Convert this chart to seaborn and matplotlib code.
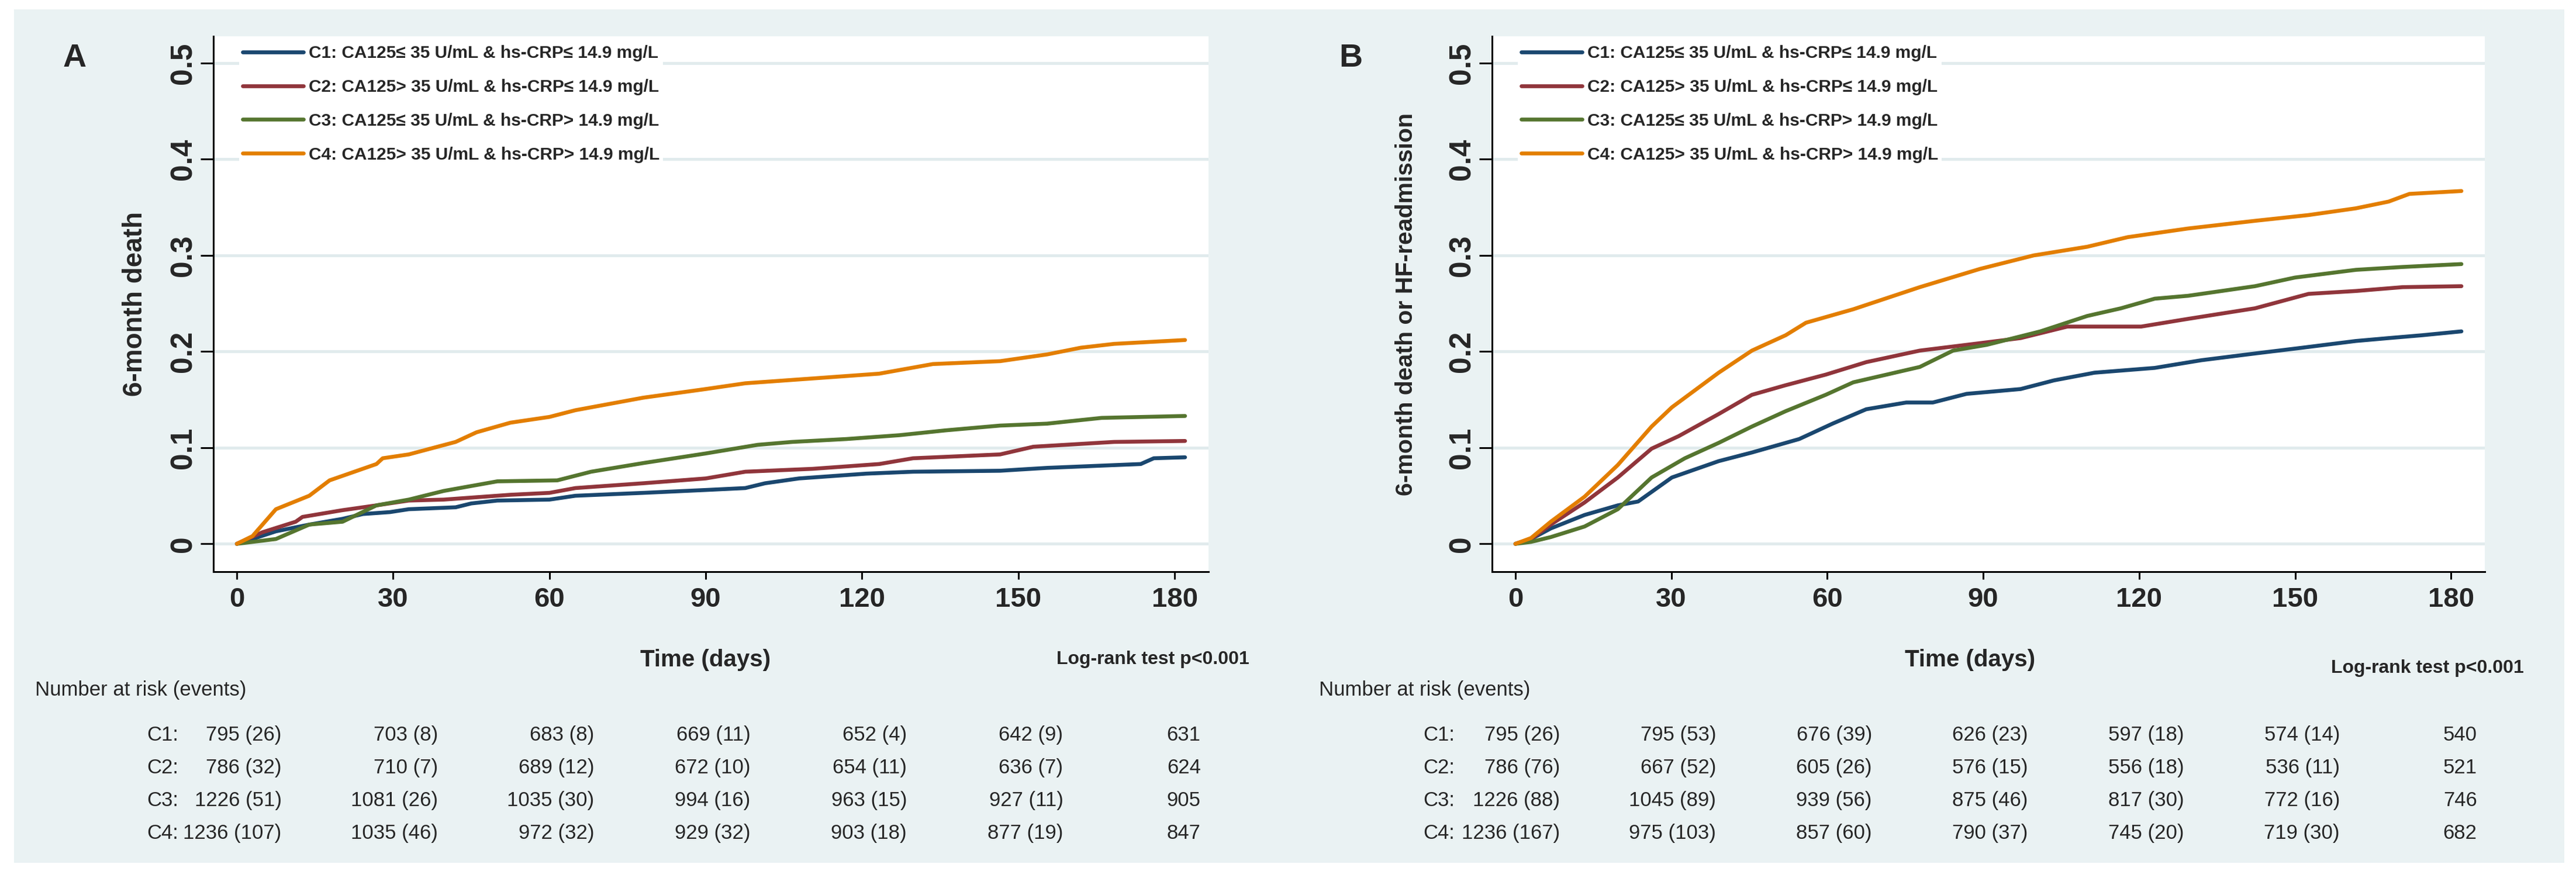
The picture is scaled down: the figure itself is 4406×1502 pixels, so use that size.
import matplotlib
matplotlib.use("Agg")
import matplotlib.pyplot as plt
import matplotlib.transforms as mtransforms
from matplotlib.patches import Rectangle
import pandas as pd
import seaborn as sns

# ---------------- data ----------------
groups = ["C1", "C2", "C3", "C4"]
legend_labels = [
    "C1: CA125\u2264 35 U/mL & hs-CRP\u2264 14.9 mg/L",
    "C2: CA125> 35 U/mL & hs-CRP\u2264 14.9 mg/L",
    "C3: CA125\u2264 35 U/mL & hs-CRP> 14.9 mg/L",
    "C4: CA125> 35 U/mL & hs-CRP> 14.9 mg/L",
]
colors = ["#1a476f", "#90353b", "#55752f", "#e37e00"]
x_ticks = [0, 30, 60, 90, 120, 150, 180]
y_ticks = [0, 0.1, 0.2, 0.3, 0.4, 0.5]
y_ticklabels = ["0", "0.1", "0.2", "0.3", "0.4", "0.5"]

# panel A: 6-month death
a_c1_t = [0, 3, 7.5, 13.9, 20.3, 24.2, 29.4, 33, 42, 45, 50, 60, 65, 78, 90, 97.6, 101.4, 107.9, 120.8, 129.8, 146.5, 155.5, 173.5, 176, 182]
a_c1_y = [0, 0.005, 0.013, 0.02, 0.026, 0.031, 0.033, 0.036, 0.038, 0.042, 0.045, 0.046, 0.05, 0.053, 0.056, 0.058, 0.063, 0.068, 0.073, 0.075, 0.076, 0.079, 0.083, 0.089, 0.090]
a_c2_t = [0, 4.9, 11.3, 12.6, 20.3, 26.8, 33, 39.7, 52.5, 60, 65, 78, 90, 97.6, 110.5, 123.3, 129.8, 146.5, 152.9, 168.4, 182]
a_c2_y = [0, 0.012, 0.023, 0.028, 0.035, 0.04, 0.045, 0.046, 0.051, 0.053, 0.058, 0.063, 0.068, 0.075, 0.078, 0.083, 0.089, 0.093, 0.101, 0.106, 0.107]
a_c3_t = [0, 3, 7.5, 13.9, 20.3, 26.8, 33, 39.7, 50, 61.5, 68, 78, 90, 100, 106.6, 117, 127.2, 136, 146.5, 155.5, 166, 182]
a_c3_y = [0, 0.002, 0.005, 0.02, 0.023, 0.04, 0.046, 0.055, 0.065, 0.066, 0.075, 0.084, 0.094, 0.103, 0.106, 0.109, 0.113, 0.118, 0.123, 0.125, 0.131, 0.133]
a_c4_t = [0, 3, 7.5, 13.9, 17.8, 26.8, 28, 33, 42, 46, 52.5, 60, 65, 78, 90, 97.6, 110.5, 123.3, 133.6, 146.5, 155.5, 162, 168.4, 182]
a_c4_y = [0, 0.008, 0.036, 0.05, 0.066, 0.083, 0.089, 0.093, 0.106, 0.116, 0.126, 0.132, 0.139, 0.152, 0.161, 0.167, 0.172, 0.177, 0.187, 0.19, 0.197, 0.204, 0.208, 0.212]

# panel B: 6-month death or HF-readmission
b_c1_t = [0, 3, 6.8, 13.3, 19.7, 23.6, 30.1, 39.1, 45.5, 54.6, 61, 67.5, 75.2, 80.3, 86.8, 97.2, 103.6, 111.4, 123, 132, 142.3, 151.4, 161.7, 168, 174.5, 182]
b_c1_y = [0, 0.005, 0.016, 0.03, 0.04, 0.044, 0.069, 0.086, 0.095, 0.109, 0.125, 0.14, 0.147, 0.147, 0.156, 0.161, 0.17, 0.178, 0.183, 0.191, 0.198, 0.204, 0.211, 0.214, 0.217, 0.221]
b_c2_t = [0, 3, 6.8, 13.3, 19.7, 26.2, 31.4, 39.1, 45.5, 52, 59.7, 67.5, 77.8, 86.8, 97.2, 106.2, 120.4, 129.4, 142.3, 152.6, 161.7, 170.7, 182]
b_c2_y = [0, 0.005, 0.02, 0.043, 0.069, 0.099, 0.112, 0.135, 0.155, 0.165, 0.176, 0.189, 0.201, 0.207, 0.214, 0.226, 0.226, 0.234, 0.245, 0.26, 0.263, 0.267, 0.268]
b_c3_t = [0, 3, 6.8, 13.3, 19.7, 26.2, 32.6, 39.1, 45.5, 52, 59.7, 65, 77.8, 84.2, 90.7, 101, 110, 116.5, 123, 129.4, 142.3, 150, 161.7, 170.7, 182]
b_c3_y = [0, 0.002, 0.007, 0.018, 0.036, 0.069, 0.089, 0.105, 0.122, 0.138, 0.155, 0.168, 0.184, 0.201, 0.207, 0.221, 0.237, 0.245, 0.255, 0.258, 0.268, 0.277, 0.285, 0.288, 0.291]
b_c4_t = [0, 3, 6.8, 13.3, 19.7, 26.2, 30.1, 39.1, 45.5, 52, 55.9, 65, 77.8, 89.4, 99.7, 110, 117.8, 129.4, 142.3, 152.6, 161.7, 168, 172, 182]
b_c4_y = [0, 0.006, 0.023, 0.049, 0.082, 0.122, 0.142, 0.178, 0.201, 0.217, 0.23, 0.244, 0.267, 0.286, 0.3, 0.309, 0.319, 0.328, 0.336, 0.342, 0.349, 0.356, 0.364, 0.367]

# number at risk (events)
risk_a_c1 = ["795 (26)", "703 (8)", "683 (8)", "669 (11)", "652 (4)", "642 (9)", "631"]
risk_a_c2 = ["786 (32)", "710 (7)", "689 (12)", "672 (10)", "654 (11)", "636 (7)", "624"]
risk_a_c3 = ["1226 (51)", "1081 (26)", "1035 (30)", "994 (16)", "963 (15)", "927 (11)", "905"]
risk_a_c4 = ["1236 (107)", "1035 (46)", "972 (32)", "929 (32)", "903 (18)", "877 (19)", "847"]
risk_b_c1 = ["795 (26)", "795 (53)", "676 (39)", "626 (23)", "597 (18)", "574 (14)", "540"]
risk_b_c2 = ["786 (76)", "667 (52)", "605 (26)", "576 (15)", "556 (18)", "536 (11)", "521"]
risk_b_c3 = ["1226 (88)", "1045 (89)", "939 (56)", "875 (46)", "817 (30)", "772 (16)", "746"]
risk_b_c4 = ["1236 (167)", "975 (103)", "857 (60)", "790 (37)", "745 (20)", "719 (30)", "682"]

# ---------------- style ----------------
sns.set_theme(style="white")
FAMILY = ["Liberation Sans", "DejaVu Sans"]
plt.rcParams["font.family"] = FAMILY


def font(size, bold=False):
    return dict(family=FAMILY, size=size, weight="bold" if bold else "normal")


W, H = 4406, 1502
BG = "#eaf2f3"
GRID = "#e1ebed"
fig = plt.figure(figsize=(W / 100, H / 100), dpi=100, facecolor="white")
fig.add_artist(Rectangle((24 / W, 1 - 1476 / H), (4386 - 24) / W, (1476 - 16) / H,
                         transform=fig.transFigure, facecolor=BG, edgecolor="none", zorder=-10))


def px_box(left, top, right, bottom):
    return [left / W, 1 - bottom / H, (right - left) / W, (bottom - top) / H]


panels = [
    dict(box=px_box(365, 62, 2067, 978), letter="A", letter_x=128,
         ylabel="6-month death", ylab_size=33, ylab_x=-0.079, xlab_x=0.4947,
         logrank=(1.041, -0.164), nar_x=-0.179, row_x=-0.0353,
         series=[(a_c1_t, a_c1_y), (a_c2_t, a_c2_y), (a_c3_t, a_c3_y), (a_c4_t, a_c4_y)],
         risk=[risk_a_c1, risk_a_c2, risk_a_c3, risk_a_c4]),
    dict(box=px_box(2552, 62, 4250, 978), letter="B", letter_x=2310,
         ylabel="6-month death or HF-readmission", ylab_size=29.5, ylab_x=-0.0866, xlab_x=0.4817,
         logrank=(1.0395, -0.180), nar_x=-0.1743, row_x=-0.0377,
         series=[(b_c1_t, b_c1_y), (b_c2_t, b_c2_y), (b_c3_t, b_c3_y), (b_c4_t, b_c4_y)],
         risk=[risk_b_c1, risk_b_c2, risk_b_c3, risk_b_c4]),
]

row_y = [-0.3055, -0.3667, -0.4278, -0.4889]
leg_size = 21.5
leg_em = leg_size * 100 / 72

for p in panels:
    ax = fig.add_axes(p["box"])
    ax.set_facecolor("white")

    frames = [pd.DataFrame({"time": t, "risk": y, "group": g})
              for g, (t, y) in zip(groups, p["series"])]
    df = pd.concat(frames, ignore_index=True)
    sns.lineplot(data=df, x="time", y="risk", hue="group", hue_order=groups,
                 palette=colors, estimator=None, sort=False, linewidth=4.8,
                 legend=False, ax=ax)

    ax.set_xlim(-4.5, 186.5)
    ax.set_ylim(-0.029, 0.528)
    ax.set_xticks(x_ticks)
    ax.set_xticklabels([str(v) for v in x_ticks], fontdict=font(34, True))
    ax.set_yticks(y_ticks)
    ax.set_yticklabels(y_ticklabels, rotation=90, va="center", fontdict=font(37, True))
    ax.tick_params(axis="x", length=9.4, width=2.2, pad=9, color="black", bottom=True)
    ax.tick_params(axis="y", length=15.8, width=2.2, pad=3, color="black", left=True)

    ax.yaxis.grid(True, color=GRID, linewidth=3.6)
    ax.xaxis.grid(False)
    ax.set_axisbelow(True)
    for side in ["top", "right"]:
        ax.spines[side].set_visible(False)
    for side in ["left", "bottom"]:
        ax.spines[side].set_color("black")
        ax.spines[side].set_linewidth(2.2)

    ax.set_xlabel("Time (days)", fontdict=font(29, True), va="baseline")
    ax.xaxis.set_label_coords(p["xlab_x"], -0.1769)
    ax.set_ylabel(p["ylabel"], fontdict=font(p["ylab_size"], True), va="center")
    ax.yaxis.set_label_coords(p["ylab_x"], 0.5)

    handles = ax.get_lines()[:4]
    ax.legend(handles, legend_labels, loc="upper left", bbox_to_anchor=(0.026, 0.99),
              frameon=True, facecolor="white", edgecolor="none", framealpha=1,
              prop=font(leg_size, True), handlelength=104 / leg_em,
              handletextpad=9 / leg_em, labelspacing=1.0, borderpad=0.2, borderaxespad=0)

    ax.text(p["logrank"][0], p["logrank"][1], "Log-rank test p<0.001", transform=ax.transAxes,
            ha="right", va="center", fontdict=font(23, True))
    ax.text(p["nar_x"], -0.2314, "Number at risk (events)", transform=ax.transAxes,
            ha="left", va="baseline", fontdict=font(25))

    blend = mtransforms.blended_transform_factory(ax.transData, ax.transAxes)
    for g, yy, row in zip(groups, row_y, p["risk"]):
        ax.text(p["row_x"], yy, g + ":", transform=ax.transAxes, ha="right", va="center",
                fontdict=font(25))
        for tk, s in zip(x_ticks, row):
            off = 5.0 if tk == x_ticks[-1] else 8.6
            ax.text(tk + off, yy, s, transform=blend, ha="right", va="center",
                    fontdict=font(25), clip_on=False)

    fig.text(p["letter_x"] / W, 1 - 100 / H, p["letter"], ha="center", va="center",
             fontdict=font(40, True))

fig.savefig("out.png", dpi=100, facecolor="white")
